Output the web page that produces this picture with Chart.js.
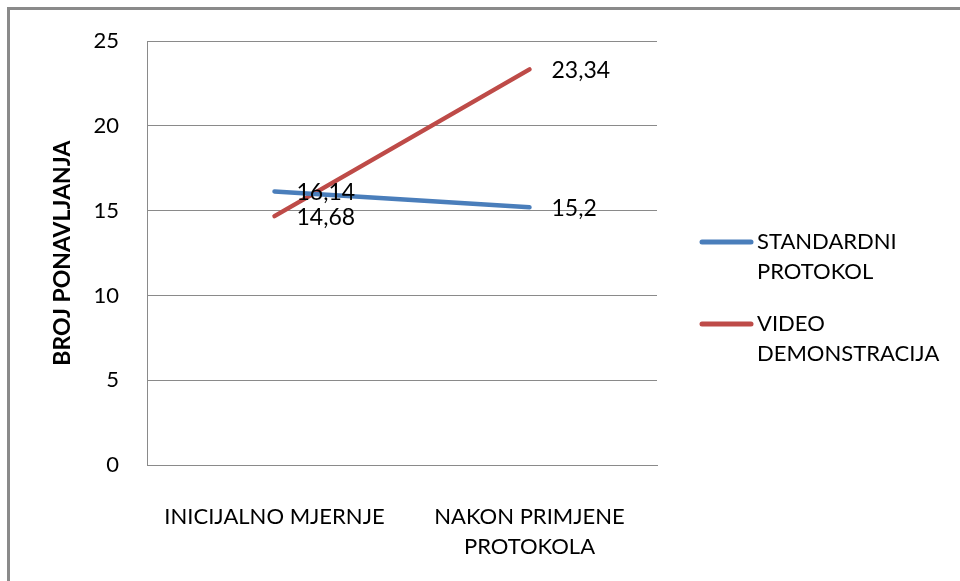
<!DOCTYPE html>
<html>
<head>
<meta charset="utf-8">
<script src="https://cdn.jsdelivr.net/npm/chart.js@4/dist/chart.umd.min.js"></script>
<style>
  html, body { margin: 0; padding: 0; background: #fff; }
  #wrap { position: relative; width: 960px; height: 581px; }
  #frame { position: absolute; left: 7px; top: 7px; right: 0; bottom: 0;
           border-top: 3px solid #8a8a8a; border-left: 3px solid #8a8a8a; }
  canvas { position: absolute; left: 0; top: 0; }
</style>
</head>
<body>
<div id="wrap">
  <div id="frame"></div>
  <canvas id="chart" width="960" height="581"></canvas>
</div>
<script>
// chart data
const categories = ['INICIJALNO MJERNJE', ['NAKON PRIMJENE', 'PROTOKOLA']];
const seriesNames = ['STANDARDNI PROTOKOL', 'VIDEO DEMONSTRACIJA'];
const standardni = [16.14, 15.2];
const video = [14.68, 23.34];
const yTicks = [0, 5, 10, 15, 20, 25];
const yTitle = 'BROJ PONAVLJANJA';

const FONT = 'Lato, "Liberation Sans", sans-serif';

// value labels right of each point, comma as decimal mark
const valueLabels = {
    id: 'valueLabels',
    afterDatasetsDraw(chart) {
        const ctx = chart.ctx;
        ctx.save();
        ctx.font = '23px ' + FONT;
        ctx.fillStyle = '#000';
        ctx.textAlign = 'left';
        ctx.textBaseline = 'middle';
        chart.data.datasets.forEach((ds, i) => {
            chart.getDatasetMeta(i).data.forEach((pt, j) => {
                const txt = String(ds.data[j]).replace('.', ',');
                ctx.fillText(txt, pt.x + 22, pt.y + 1);
            });
        });
        ctx.restore();
    }
};

// legend on the right with wrapped labels
const sideLegend = {
    id: 'sideLegend',
    afterDraw(chart) {
        const ctx = chart.ctx;
        ctx.save();
        ctx.font = '22px ' + FONT;
        ctx.fillStyle = '#000';
        ctx.textAlign = 'left';
        ctx.textBaseline = 'middle';
        let y = 242;
        chart.data.datasets.forEach(ds => {
            ctx.strokeStyle = ds.borderColor;
            ctx.lineWidth = 5;
            ctx.lineCap = 'round';
            ctx.beginPath();
            ctx.moveTo(702, y);
            ctx.lineTo(751, y);
            ctx.stroke();
            const lines = ds.label.split(' ');
            lines.forEach((l, k) => ctx.fillText(l, 757, y + k * 30));
            y += 82;
        });
        ctx.restore();
    }
};

new Chart(document.getElementById('chart'), {
    type: 'line',
    data: {
        labels: categories,
        datasets: [
            { label: seriesNames[0], data: standardni, borderColor: '#4A7EBB', backgroundColor: '#4A7EBB' },
            { label: seriesNames[1], data: video, borderColor: '#BE4B48', backgroundColor: '#BE4B48' }
        ]
    },
    options: {
        responsive: false,
        animation: false,
        devicePixelRatio: 1,
        layout: { padding: { top: 37, right: 303, bottom: 0, left: 0 } },
        elements: {
            line: { borderWidth: 4.5, tension: 0, borderCapStyle: 'round' },
            point: { radius: 0, hoverRadius: 0 }
        },
        plugins: { legend: { display: false }, tooltip: { enabled: false } },
        scales: {
            x: {
                offset: true,
                grid: { display: false },
                border: { display: true, color: '#8a8a8a', width: 1 },
                ticks: {
                    color: '#000', maxRotation: 0, autoSkip: false, padding: 29,
                    font: { family: FONT, size: 22, lineHeight: 30 / 22 }
                },
                afterFit(scale) { scale.height = 116; }
            },
            y: {
                min: 0, max: 25,
                afterBuildTicks(scale) { scale.ticks = yTicks.map(v => ({ value: v })); },
                grid: { color: '#8a8a8a', lineWidth: 1, drawTicks: false },
                border: { display: true, color: '#8a8a8a', width: 1 },
                ticks: {
                    color: '#000', padding: 28,
                    font: { family: FONT, size: 22 }
                },
                title: {
                    display: true, text: yTitle, color: '#000',
                    font: { family: FONT, size: 23, weight: 'bold' },
                    padding: { top: 49, bottom: 0 }
                },
                afterFit(scale) { scale.width = 147; }
            }
        }
    },
    plugins: [valueLabels, sideLegend]
});
</script>
</body>
</html>
